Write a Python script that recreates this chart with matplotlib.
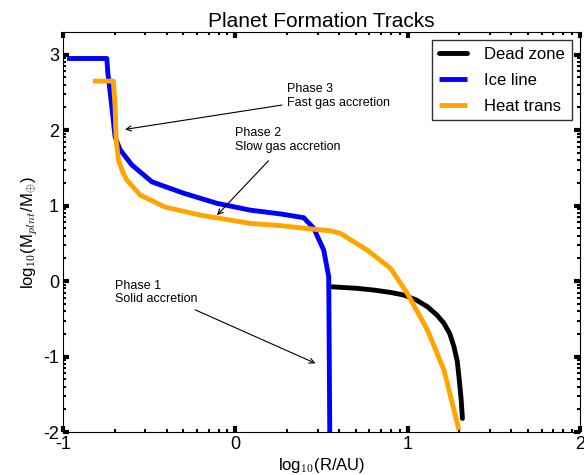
import numpy as np
import matplotlib
matplotlib.use("Agg")
import matplotlib.pyplot as plt
from matplotlib.ticker import FixedLocator

plt.rcParams['font.family'] = ['Liberation Sans', 'DejaVu Sans']
plt.rcParams['mathtext.fontset'] = 'cm'
plt.rcParams['axes.unicode_minus'] = False

# Dead zone track
dz_x = [0.562, 0.70, 0.804, 0.90, 0.978, 1.05, 1.115, 1.17, 1.211, 1.245, 1.269, 1.288, 1.298, 1.310, 1.318]
dz_y = [-0.076, -0.095, -0.119, -0.15, -0.185, -0.25, -0.34, -0.45, -0.56, -0.70, -0.87, -1.06, -1.27, -1.55, -1.82]

# Ice line track
il_x = [-0.977, -0.746, -0.740, -0.717, -0.698, -0.669, -0.601, -0.484, -0.302, -0.106, 0.087, 0.262, 0.397, 0.455, 0.513, 0.542, 0.548]
il_y = [2.95, 2.95, 2.755, 2.31, 1.91, 1.74, 1.54, 1.315, 1.166, 1.03, 0.94, 0.89, 0.84, 0.70, 0.41, 0.057, -2.0]

# Heat transition track
ht_x = [-0.826, -0.708, -0.698, -0.692, -0.678, -0.655, -0.630, -0.552, -0.407, -0.203, 0.087, 0.262, 0.40, 0.552, 0.610, 0.766, 0.901, 0.998, 1.115, 1.211, 1.298]
ht_y = [2.65, 2.65, 2.31, 1.87, 1.60, 1.45, 1.34, 1.14, 0.98, 0.874, 0.764, 0.735, 0.70, 0.666, 0.632, 0.41, 0.168, -0.163, -0.649, -1.179, -1.974]

series_labels = ['Dead zone', 'Ice line', 'Heat trans']
series_colors = ['black', 'blue', 'orange']

xticks = [-1, 0, 1, 2]
yticks = [-2, -1, 0, 1, 2, 3]

fig = plt.figure(figsize=(5.84, 4.75), dpi=100)
ax = fig.add_axes([0.108, 0.0905, 0.885, 0.842])

for xs, ys, lab, col in zip([dz_x, il_x, ht_x], [dz_y, il_y, ht_y], series_labels, series_colors):
    ax.plot(xs, ys, color=col, lw=3.5, label=lab,
            solid_capstyle='round' if col == 'black' else 'butt', solid_joinstyle='round')

ax.set_xlim(-1, 2)
ax.set_ylim(-2, 3.3)
ax.set_xticks(xticks)
ax.set_xticklabels([str(t) for t in xticks])
ax.set_yticks(yticks)
ax.set_yticklabels([str(t) for t in yticks])

xminor = [n + np.log10(k) for n in range(-1, 2) for k in range(2, 10)]
yminor = [n + np.log10(k) for n in range(-2, 4) for k in range(2, 10) if n + np.log10(k) <= 3.3]
ax.xaxis.set_minor_locator(FixedLocator(xminor))
ax.yaxis.set_minor_locator(FixedLocator(yminor))
ax.tick_params(which='major', direction='in', length=4, width=3, top=True, right=True, labelsize=13, pad=3)
ax.tick_params(which='minor', direction='in', length=2, width=1.5, top=True, right=True)

ax.set_title('Planet Formation Tracks', fontsize=15, pad=4)
ax.set_xlabel(r'log$_{10}$(R/AU)', fontsize=12, labelpad=2)
ax.set_ylabel(r'log$_{10}$(M$_{plnt}$/M$_{\oplus}$)', fontsize=12, labelpad=2)

ax.annotate('Phase 3\nFast gas accretion', xy=(-0.64, 2.01), xytext=(0.302, 2.45),
            fontsize=9, va='center', ha='left',
            arrowprops=dict(arrowstyle='->', color='black', lw=0.8, shrinkA=2, shrinkB=0))
ax.annotate('Phase 2\nSlow gas accretion', xy=(-0.106, 0.874), xytext=(0.0, 1.87),
            fontsize=9, va='center', ha='left',
            arrowprops=dict(arrowstyle='->', color='black', lw=0.8, shrinkA=5, shrinkB=0))
ax.annotate('Phase 1\nSolid accretion', xy=(0.465, -1.09), xytext=(-0.70, -0.15),
            fontsize=9, va='center', ha='left',
            arrowprops=dict(arrowstyle='->', color='black', lw=0.8, shrinkA=3, shrinkB=0))

leg = ax.legend(loc='upper right', fontsize=12, frameon=True, fancybox=False,
                edgecolor='black', handlelength=1.7, handletextpad=1.0,
                labelspacing=0.65, borderaxespad=0.5)
leg.get_frame().set_linewidth(1.0)

fig.savefig('out.png', dpi=100)
